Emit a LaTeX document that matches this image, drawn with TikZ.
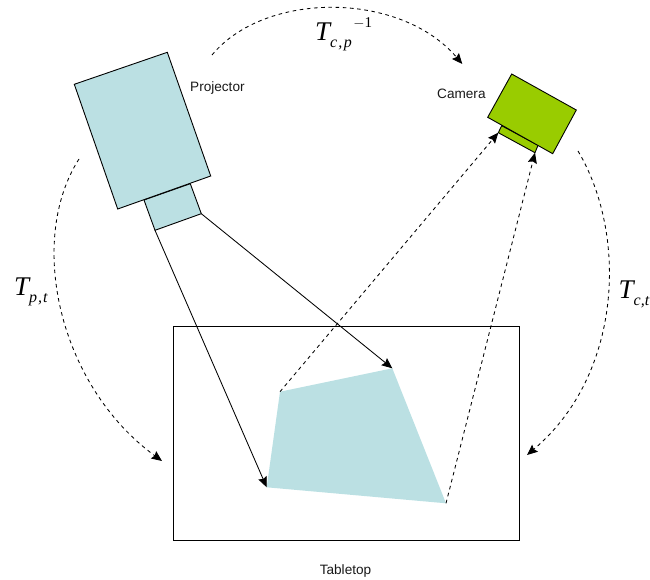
\documentclass[tikz,border=0pt]{standalone}
\usepackage{fontspec}
\setmainfont{Liberation Sans}
\newfontfamily\symbfont{Liberation Serif}
\usepackage{xcolor}
\usetikzlibrary{arrows.meta,positioning,calc}
\definecolor{ptteal}{HTML}{BBE0E3}
\definecolor{ptolive}{HTML}{99CC00}
\newcommand{\bigT}{{\symbfont\fontsize{27}{27}\selectfont\itshape T}}
\newcommand{\subT}[1]{\raisebox{-7pt}{\symbfont\fontsize{16}{16}\selectfont\itshape #1}}
\tikzset{
  device/.style={draw=black,line width=0.9pt,line join=miter},
  label/.style={inner sep=0pt,font=\fontsize{13.6}{15}\selectfont,text=black!90},
  sym/.style={inner sep=0pt,text=black},
  ray/.style={-{Stealth[length=10.5pt,width=9pt,inset=1.5pt]},line width=0.85pt},
  dray/.style={ray,dash pattern=on 3.6pt off 3.6pt},
  transform/.style={-{Stealth[length=10.5pt,width=9pt,inset=1.5pt]},line width=0.85pt,dash pattern=on 3.6pt off 3.6pt},
}
\begin{document}
\begin{tikzpicture}[x=1pt,y=-1pt]
\useasboundingbox (0,0) rectangle (650,580);
% projector corners
\coordinate (pa) at (74.3,84.3);
\coordinate (pb) at (167.3,52.3);
\coordinate (pc) at (210.7,176);
\coordinate (pd) at (117.7,209);
\coordinate (pe) at (144,200);
\coordinate (pf) at (190.3,183.7);
\coordinate (pg) at (201.3,213.7);
\coordinate (ph) at (155,230.3);
% camera corners
\coordinate (ca) at (511.7,74);
\coordinate (cb) at (576.3,110);
\coordinate (cc) at (552.7,153.7);
\coordinate (cd) at (487.7,117.3);
\coordinate (ce) at (501.7,125.7);
\coordinate (cf) at (538,145.3);
\coordinate (cg) at (535,152.7);
\coordinate (ch) at (498.3,132.7);
% patch on the table
\coordinate (qa) at (280,391.7);
\coordinate (qb) at (392.3,368.3);
\coordinate (qc) at (446,503.3);
\coordinate (qd) at (266.7,487.3);
% ends of the transforms
\coordinate (ta) at (212,55);
\coordinate (tb) at (462.3,64);
\coordinate (tc) at (79,159);
\coordinate (td) at (162,461);
\coordinate (te) at (578,151);
\coordinate (tf) at (527,455);

\node[draw=black,line width=0.9pt,minimum width=345.7pt,minimum height=214pt,inner sep=0pt] (table) at (346.2,433.7) {};
\fill[ptteal] (qa) -- (qb) -- (qc) -- (qd) -- cycle;

\draw[device,fill=ptteal] (pe) -- (pf) -- (pg) -- (ph) -- cycle;
\draw[device,fill=ptteal] (pa) -- (pb) -- (pc) -- (pd) -- cycle;
\draw[device,fill=ptolive] (ce) -- (cf) -- (cg) -- (ch) -- cycle;
\draw[device,fill=ptolive] (ca) -- (cb) -- (cc) -- (cd) -- cycle;

\draw[ray] (ph) -- (qd);
\draw[ray] (pg) -- (qb);
\draw[dray] (qa) -- (ch);
\draw[dray] (qc) -- (cg);

\draw[transform] (ta) .. controls (265,-9) and (400,-9) .. (tb);
\draw[transform] (tc) .. controls (27,240) and (58,385) .. (td);
\draw[transform] (te) .. controls (628,235) and (622,375) .. (tf);

\node[label,anchor=west] (projector) at (190,88) {Projector};
\node[label,anchor=west] (camera) at (437,94) {Camera};
\node[label,anchor=north] (tabletop) at (345.5,564) {Tabletop};

\node[sym,anchor=base west] (tcp) at (315,41) {\bigT\subT{c\kern1pt,\kern1.5pt p}\raisebox{13pt}{\symbfont\fontsize{15}{15}\selectfont\kern1.5pt$-$1}};
\node[sym,anchor=base west] (tpt) at (14,295) {\bigT\subT{p\kern1pt,\kern1pt t}};
\node[sym,anchor=base west] (tct) at (618.5,298) {\bigT\subT{c,t}};
\end{tikzpicture}
\end{document}
